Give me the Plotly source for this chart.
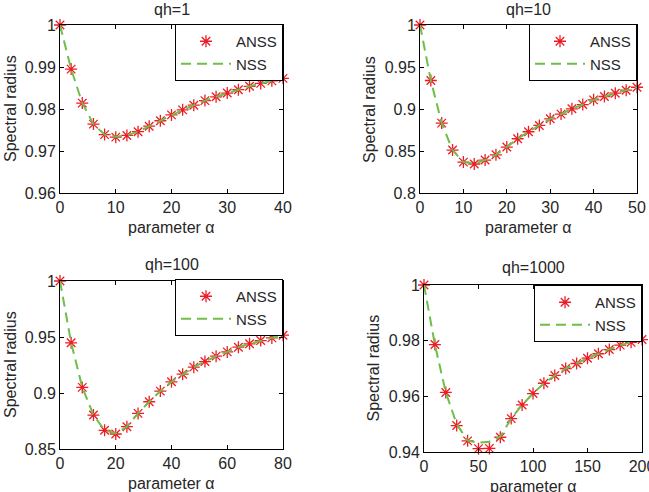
import plotly.graph_objects as go

W, H = 649, 492

# ---------------- data ----------------
titles = ["qh=1", "qh=10", "qh=100", "qh=1000"]

alpha1 = [0, 2, 4, 6, 8, 10, 12, 14, 16, 18, 20, 22, 24, 26, 28, 30, 32, 34, 36, 38, 40]
anss1 = [1.0, 0.9895, 0.9814, 0.9764, 0.9739, 0.9733, 0.9737, 0.9746, 0.9759, 0.9772, 0.9786,
         0.9798, 0.9809, 0.9820, 0.9829, 0.9838, 0.9846, 0.9854, 0.9861, 0.9867, 0.9873]
nss1 = [1.0, 0.9895, 0.9814, 0.9764, 0.9739, 0.9734, 0.9737, 0.9746, 0.9759, 0.9772, 0.9786,
        0.9798, 0.9809, 0.9820, 0.9829, 0.9838, 0.9846, 0.9854, 0.9861, 0.9867, 0.9873]

alpha2 = [0, 2.5, 5, 7.5, 10, 12.5, 15, 17.5, 20, 22.5, 25, 27.5, 30, 32.5, 35, 37.5, 40, 42.5, 45, 47.5, 50]
anss2 = [1.0, 0.9339, 0.8832, 0.8511, 0.8368, 0.8345, 0.8392, 0.8455, 0.8547, 0.8646, 0.8729,
         0.8804, 0.8883, 0.8939, 0.9002, 0.9053, 0.9109, 0.9149, 0.9188, 0.9224, 0.9259]
nss2 = [1.0, 0.9339, 0.8832, 0.8511, 0.8368, 0.8350, 0.8392, 0.8455, 0.8547, 0.8646, 0.8729,
        0.8804, 0.8883, 0.8939, 0.9002, 0.9053, 0.9109, 0.9149, 0.9188, 0.9224, 0.9259]

alpha3 = [0, 4, 8, 12, 16, 20, 24, 28, 32, 36, 40, 44, 48, 52, 56, 60, 64, 68, 72, 76, 80]
anss3 = [1.0, 0.9448, 0.9050, 0.8803, 0.8667, 0.8634, 0.8699, 0.8818, 0.8922, 0.9017, 0.9100,
         0.9168, 0.9231, 0.9281, 0.9329, 0.9367, 0.9409, 0.9439, 0.9468, 0.9492, 0.9516]
nss3 = [1.0, 0.9448, 0.9050, 0.8803, 0.8667, 0.8640, 0.8699, 0.8818, 0.8922, 0.9017, 0.9100,
        0.9168, 0.9231, 0.9281, 0.9329, 0.9367, 0.9409, 0.9439, 0.9468, 0.9492, 0.9516]

alpha4 = [0, 10, 20, 30, 40, 50, 60, 70, 80, 90, 100, 110, 120, 130, 140, 150, 160, 170, 180, 190, 200]
anss4 = [1.0, 0.9786, 0.9614, 0.9495, 0.9440, 0.9412, 0.9413, 0.9453, 0.9520, 0.9569, 0.9610,
         0.9647, 0.9675, 0.9700, 0.9718, 0.9737, 0.9753, 0.9768, 0.9784, 0.9794, 0.9804]
nss4 = [1.0, 0.9786, 0.9614, 0.9500, 0.9441, 0.9433, 0.9437, 0.9455, 0.9520, 0.9569, 0.9610,
        0.9647, 0.9675, 0.9700, 0.9718, 0.9737, 0.9753, 0.9768, 0.9784, 0.9794, 0.9804]

xticks = [[0, 10, 20, 30, 40], [0, 10, 20, 30, 40, 50], [0, 20, 40, 60, 80], [0, 50, 100, 150, 200]]
yticks = [[0.96, 0.97, 0.98, 0.99, 1.0], [0.8, 0.85, 0.9, 0.95, 1.0],
          [0.85, 0.9, 0.95, 1.0], [0.94, 0.96, 0.98, 1.0]]
ytick_text = [["0.96", "0.97", "0.98", "0.99", "1"], ["0.8", "0.85", "0.9", "0.95", "1"],
              ["0.85", "0.9", "0.95", "1"], ["0.94", "0.96", "0.98", "1"]]
xranges = [[0, 40], [0, 50], [0, 80], [0, 200]]
yranges = [[0.96, 1.0], [0.8, 1.0], [0.85, 1.0], [0.94, 1.0]]

alphas = [alpha1, alpha2, alpha3, alpha4]
anss = [anss1, anss2, anss3, anss4]
nss = [nss1, nss2, nss3, nss4]

# ---------------- layout geometry (pixels) ----------------
boxes = [(60, 25, 283, 193), (420, 25, 637, 193), (60, 281, 283, 449), (424, 285, 642, 452)]
legboxes = [(283, 24), (637, 24), (283, 279), (642, 285)]
title_y = [9, 9, 264, 267]
ylab_x = [10, 369, 10, 373]
xlab_y = [227, 227, 483, 486]

RED = "#ee1c25"
GREEN = "#6dbf4a"
TXT = "#262626"
FONT = "Liberation Sans, Arial, sans-serif"
FS = 16

fig = go.Figure()
layout = dict(template="none", width=W, height=H, margin=dict(l=0, r=0, t=0, b=0, autoexpand=False),
              paper_bgcolor="white", plot_bgcolor="white",
              font=dict(family=FONT, size=FS, color=TXT), annotations=[])

for i in range(4):
    k = "" if i == 0 else str(i + 1)
    leg = "legend" + k
    xa, ya = "x" + k, "y" + k
    fig.add_trace(go.Scatter(x=alphas[i], y=anss[i], mode="markers", name="ANSS",
                             xaxis=xa, yaxis=ya, legend=leg, cliponaxis=False,
                             marker=dict(symbol="asterisk-open", size=10,
                                         line=dict(color=RED, width=1.3), color=RED)))
    fig.add_trace(go.Scatter(x=alphas[i], y=nss[i], mode="lines", name="NSS",
                             xaxis=xa, yaxis=ya, legend=leg, cliponaxis=False,
                             line=dict(color=GREEN, width=2, dash="10px,6px")))
    x0, y0, x1, y1 = boxes[i]
    layout["xaxis" + k] = dict(domain=[x0 / W, x1 / W], range=xranges[i], anchor=ya,
                               tickvals=xticks[i], ticks="inside", ticklen=4,
                               tickcolor="black", showline=True, linecolor="black",
                               linewidth=1, mirror="ticks", showgrid=False, zeroline=False,
                               automargin=False, ticklabeloverflow="allow",
                               tickfont=dict(size=FS, color=TXT))
    layout["yaxis" + k] = dict(domain=[1 - y1 / H, 1 - y0 / H], range=yranges[i], anchor=xa,
                               tickvals=yticks[i], ticktext=ytick_text[i], ticks="inside",
                               ticklen=4, tickcolor="black", showline=True, linecolor="black",
                               linewidth=1, mirror="ticks", showgrid=False, zeroline=False,
                               automargin=False, ticklabeloverflow="allow",
                               tickfont=dict(size=FS, color=TXT))
    lx, ly = legboxes[i]
    layout[leg] = dict(x=lx / W, y=1 - ly / H, xanchor="right", yanchor="top",
                       bgcolor="white", bordercolor="black", borderwidth=1,
                       itemwidth=50, font=dict(size=15, color=TXT), tracegroupgap=0)
    cx = (x0 + x1) / 2
    layout["annotations"] += [
        dict(text=titles[i], x=cx / W, y=1 - title_y[i] / H, xref="paper", yref="paper",
             showarrow=False, xanchor="center", yanchor="middle", font=dict(size=FS)),
        dict(text="Spectral radius", x=ylab_x[i] / W, y=1 - ((y0 + y1) / 2) / H,
             xref="paper", yref="paper", showarrow=False, textangle=-90,
             xanchor="center", yanchor="middle", font=dict(size=FS)),
        dict(text="parameter α", x=cx / W, y=1 - xlab_y[i] / H, xref="paper", yref="paper",
             showarrow=False, xanchor="center", yanchor="middle", font=dict(size=FS)),
    ]

fig.update_layout(**layout)
fig.write_html("out.html")
